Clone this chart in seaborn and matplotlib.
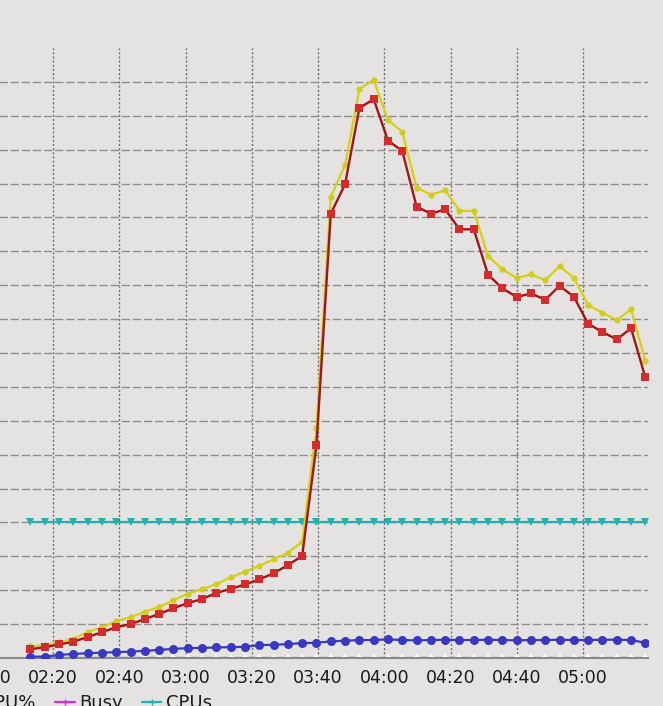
import pandas as pd
import matplotlib
matplotlib.use('Agg')
import matplotlib.pyplot as plt
import matplotlib.dates as mdates
from matplotlib.lines import Line2D
import seaborn as sns

# ── Data ────────────────────────────────────────────────────
times = pd.date_range('2014-01-01 02:13:12', periods=44, freq='259s')

load = [0.26, 0.32, 0.40, 0.48, 0.62, 0.76, 0.91, 1.00, 1.15, 1.30,
        1.47, 1.62, 1.74, 1.92, 2.04, 2.17, 2.32, 2.50, 2.74, 3.01,
        6.28, 13.11, 13.98, 16.23, 16.49, 15.27, 14.96, 13.32, 13.11, 13.24,
        12.65, 12.65, 11.31, 10.91, 10.65, 10.76, 10.57, 10.98, 10.66, 9.86,
        9.62, 9.40, 9.73, 8.28]

host_cpu = [0.34, 0.38, 0.46, 0.57, 0.76, 0.91, 1.08, 1.21, 1.36, 1.51,
            1.70, 1.90, 2.03, 2.18, 2.38, 2.55, 2.72, 2.91, 3.11, 3.43,
            6.78, 13.61, 14.54, 16.78, 17.07, 15.87, 15.53, 13.88, 13.67, 13.80,
            13.20, 13.19, 11.86, 11.47, 11.21, 11.32, 11.15, 11.56, 11.22, 10.41,
            10.19, 9.97, 10.29, 8.76]

run_queue = [0.04, 0.04, 0.09, 0.12, 0.14, 0.16, 0.17, 0.19, 0.21, 0.24,
             0.27, 0.29, 0.30, 0.31, 0.32, 0.33, 0.38, 0.39, 0.41, 0.44,
             0.45, 0.49, 0.51, 0.53, 0.53, 0.55, 0.53, 0.52, 0.53, 0.54,
             0.53, 0.53, 0.54, 0.53, 0.52, 0.53, 0.53, 0.54, 0.53, 0.53,
             0.54, 0.54, 0.53, 0.45]

wait = [0.03] * 44

cpus = [4] * 44

legend_labels = ['Host CPU%', 'Busy', 'CPUs']

# ── Style ───────────────────────────────────────────────────
bg = '#e5e3e1'
sns.set_theme(style='white')
plt.rcParams['font.family'] = ['DejaVu Sans']

fig = plt.figure(figsize=(6.63, 7.06), dpi=100, facecolor=bg)
W, H = 663, 706
ax = fig.add_axes([-60 / W, 48 / H, 708 / W, 610 / H])
ax.set_facecolor(bg)

# ── Series ──────────────────────────────────────────────────
sns.lineplot(x=times, y=cpus, ax=ax, color='#22b0b0', lw=1.6,
             marker='v', markersize=5.5, markeredgewidth=0, zorder=2)
sns.lineplot(x=times, y=wait, ax=ax, color='#7cc27c', lw=1.0,
             marker='+', markersize=4, markeredgewidth=1.2, zorder=2)
sns.lineplot(x=times, y=run_queue, ax=ax, color='#3838c0', lw=1.6,
             marker='o', markersize=6.5, markeredgewidth=0, zorder=3)
sns.lineplot(x=times, y=host_cpu, ax=ax, color='#d6d010', lw=1.6,
             marker='o', markersize=4.5, markerfacecolor='#d0cc20',
             markeredgewidth=0, zorder=4)
sns.lineplot(x=times, y=load, ax=ax, color='#a01515', lw=1.7,
             marker='s', markersize=6.3, markerfacecolor='#d42c2c',
             markeredgewidth=0, zorder=5)

# ── Axes ────────────────────────────────────────────────────
ax.set_xlim(pd.Timestamp('2014-01-01 01:45:53'), pd.Timestamp('2014-01-01 05:19:37'))
ax.set_ylim(0, 18)
ax.set_yticks(range(0, 18))
ax.xaxis.set_major_locator(mdates.MinuteLocator(byminute=[0, 20, 40]))
ax.xaxis.set_major_formatter(mdates.DateFormatter('%H:%M'))
ax.set_xlabel('')
ax.set_ylabel('')
ax.tick_params(axis='x', length=0, pad=8, labelsize=12.5, labelcolor='#1a1a1a')
ax.tick_params(axis='y', length=0, labelleft=False)

ax.grid(axis='y', color='#8e8e8e', lw=1.0, linestyle=(0, (6, 2)))
ax.grid(axis='x', color='#6e6e6e', lw=1.0, linestyle=(0, (1.5, 1.5)))
ax.set_axisbelow(True)

for s in ['top', 'left', 'right']:
    ax.spines[s].set_visible(False)
ax.spines['bottom'].set_color('#8a8a8a')
ax.spines['bottom'].set_linewidth(1.5)

# ── Legend (cut off at the bottom edge like the screenshot) ─
handles = [Line2D([], [], color='#d6d010', lw=1.6, marker='o', ms=4),
           Line2D([], [], color='#cc33cc', lw=1.6, marker='+', ms=5),
           Line2D([], [], color='#22b0b0', lw=1.6, marker='+', ms=5)]
fig.legend(handles, legend_labels, loc='center right',
           bbox_to_anchor=(221 / W, 1 - 703 / H), ncol=3, frameon=False,
           fontsize=13, handlelength=1.1, handletextpad=0.25,
           columnspacing=1.05, borderpad=0, labelcolor='#1a1a1a')

fig.savefig('out.png', dpi=100, facecolor=bg)
